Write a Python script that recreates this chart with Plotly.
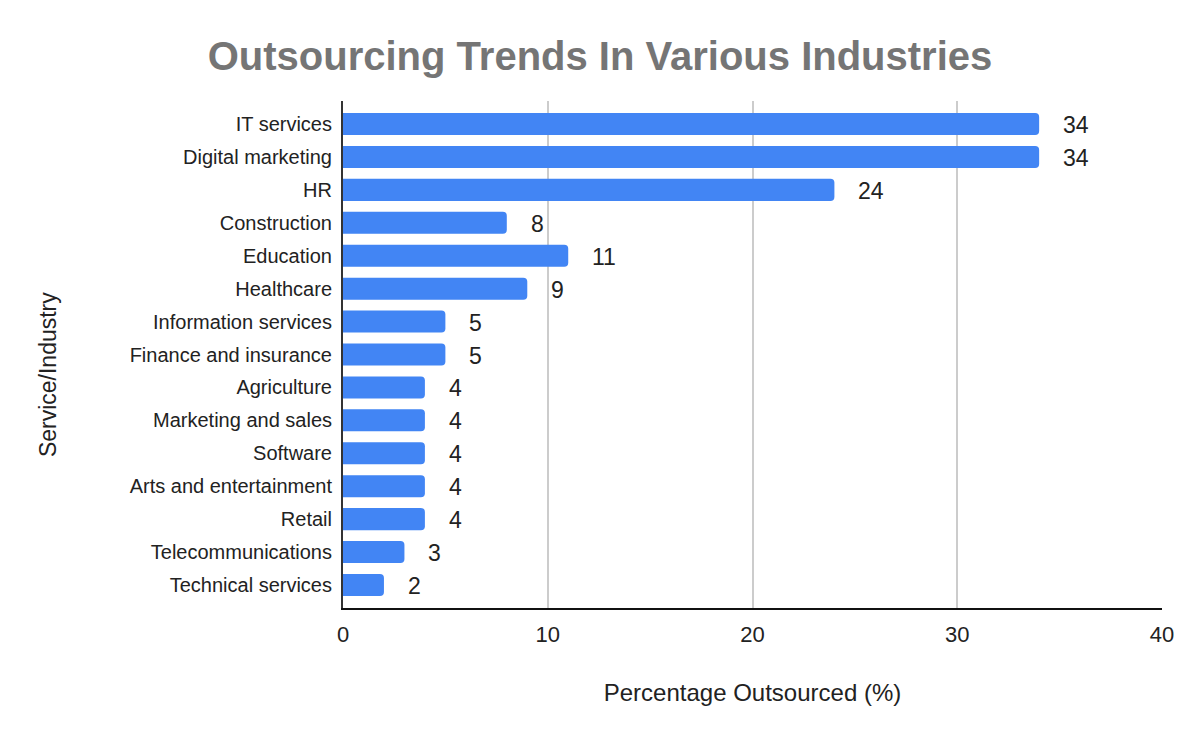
import plotly.graph_objects as go

categories = ["IT services", "Digital marketing", "HR", "Construction", "Education",
              "Healthcare", "Information services", "Finance and insurance", "Agriculture",
              "Marketing and sales", "Software", "Arts and entertainment", "Retail",
              "Telecommunications", "Technical services"]
values = [34, 34, 24, 8, 11, 9, 5, 5, 4, 4, 4, 4, 4, 3, 2]
x_ticks = [0, 10, 20, 30, 40]

font = "Liberation Sans, Arial, sans-serif"

fig = go.Figure(go.Bar(
    y=categories, x=values, orientation="h",
    marker=dict(color="#4285F4", line=dict(width=0)),
    width=0.67,
))

for c, v in zip(categories, values):
    fig.add_annotation(x=v, y=c, text=str(v), xanchor="left", showarrow=False,
                       xshift=22, yshift=-1, font=dict(family=font, size=23, color="#222222"))

fig.add_annotation(xref="paper", yref="paper", x=-0.361, y=0.46, text="Service/Industry",
                   textangle=-90, showarrow=False, xanchor="center", yanchor="middle",
                   font=dict(family=font, size=23, color="#222222"))

fig.update_layout(
    width=1200, height=742,
    margin=dict(l=343, r=38, t=101, b=134),
    paper_bgcolor="white", plot_bgcolor="white",
    barcornerradius=4,
    title=dict(text="<b>Outsourcing Trends In Various Industries</b>", x=0.5, xanchor="center",
               y=0.925, yanchor="middle",
               font=dict(family=font, size=40, color="#757575")),
    xaxis=dict(range=[0, 40], tickvals=x_ticks, showgrid=True, gridcolor="#cccccc", gridwidth=2,
               zeroline=False, showline=True, linecolor="#111111", linewidth=2,
               ticks="", ticklabelstandoff=6,
               tickfont=dict(family=font, size=22, color="#222222"),
               title=dict(text="Percentage Outsourced (%)", standoff=38,
                          font=dict(family=font, size=24, color="#222222"))),
    yaxis=dict(autorange=False, range=[14.7, -0.7], showgrid=False, zeroline=False,
               showline=True, linecolor="#333333", linewidth=2, ticks="",
               ticklabelstandoff=5,
               tickfont=dict(family=font, size=20, color="#222222")),
    showlegend=False,
)

fig.write_html("out.html")
